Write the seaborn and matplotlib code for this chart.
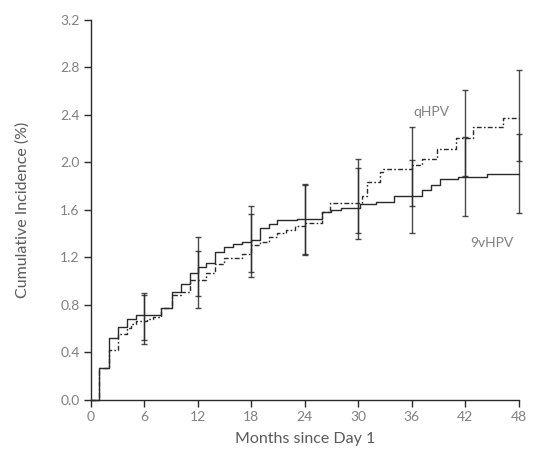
import matplotlib
matplotlib.use("Agg")
import matplotlib.pyplot as plt
import seaborn as sns
import numpy as np
import pandas as pd

# ---- data ----
months_9v = [0, 0.93, 2.0, 3.05, 4.0, 5.05, 7.85, 9.05, 10.1, 11.1, 12.0, 12.95, 13.95,
             14.95, 15.95, 16.95, 18.0, 18.95, 19.95, 20.9, 23.15, 25.9, 26.9, 28.0,
             30.2, 32.0, 34.05, 37.1, 38.15, 39.15, 41.2, 44.4, 48]
inc_9v = [0, 0.265, 0.52, 0.61, 0.675, 0.71, 0.776, 0.91, 0.97, 1.063, 1.12, 1.152, 1.245,
          1.285, 1.31, 1.33, 1.345, 1.45, 1.484, 1.51, 1.526, 1.58, 1.596, 1.615,
          1.646, 1.662, 1.714, 1.764, 1.806, 1.863, 1.876, 1.905, 1.905]

months_q = [0, 0.93, 2.0, 3.05, 4.0, 4.5, 5.05, 6.3, 7.0, 7.85, 9.05, 10.1, 11.1, 12.95,
            13.95, 14.95, 16.95, 18.0, 18.95, 19.95, 20.9, 21.9, 22.9, 24.0, 25.9, 26.8,
            30.4, 31.0, 32.4, 32.8, 36.0, 37.1, 38.8, 41.0, 42.9, 46.2, 48]
inc_q = [0, 0.265, 0.42, 0.55, 0.60, 0.635, 0.665, 0.68, 0.70, 0.776, 0.885, 0.91, 1.006, 1.063,
         1.14, 1.19, 1.23, 1.30, 1.33, 1.37, 1.40, 1.43, 1.46, 1.49, 1.58, 1.657,
         1.72, 1.834, 1.92, 1.945, 1.975, 2.03, 2.11, 2.205, 2.297, 2.376, 2.376]

ci_months = [6, 12, 18, 24, 30, 36, 42, 48]
ci_lo_9v = [0.50, 0.87, 1.076, 1.225, 1.35, 1.40, 1.55, 1.576]
ci_hi_9v = [0.90, 1.37, 1.63, 1.82, 1.95, 2.02, 2.21, 2.24]
ci_lo_q = [0.47, 0.77, 1.03, 1.22, 1.405, 1.63, 1.885, 2.01]
ci_hi_q = [0.88, 1.25, 1.56, 1.81, 2.03, 2.30, 2.61, 2.775]

x_ticks = [0, 6, 12, 18, 24, 30, 36, 42, 48]
y_ticks = [0.0, 0.4, 0.8, 1.2, 1.6, 2.0, 2.4, 2.8, 3.2]
y_tick_labels = ["0.0", "0.4", "0.8", "1.2", "1.6", "2.0", "2.4", "2.8", "3.2"]

# ---- style ----
sns.set_theme(style="white")
plt.rcParams['font.family'] = ['Lato', 'DejaVu Sans']

LINE = "#2a2a2a"
TEXT = "#808080"

fig = plt.figure(figsize=(5.41, 4.63), dpi=100)
ax = fig.add_axes([0.168, 0.137, 0.791, 0.820])

df9 = pd.DataFrame({"month": months_9v, "inc": inc_9v})
dfq = pd.DataFrame({"month": months_q, "inc": inc_q})

sns.lineplot(data=df9, x="month", y="inc", drawstyle="steps-post", color=LINE,
             linewidth=1.0, estimator=None, ax=ax)
sns.lineplot(data=dfq, x="month", y="inc", drawstyle="steps-post", color=LINE,
             linewidth=1.0, estimator=None, ax=ax)
ax.lines[-1].set_dashes((3.5, 1.6, 1.2, 1.6))
for ln in ax.lines:
    ln.set_clip_on(False)

for lo, hi in ((ci_lo_9v, ci_hi_9v), (ci_lo_q, ci_hi_q)):
    lo = np.array(lo); hi = np.array(hi)
    mid = (lo + hi) / 2
    cont = ax.errorbar(ci_months, mid, yerr=(hi - lo) / 2, fmt="none", ecolor=LINE,
                       elinewidth=1.0, capsize=2.2, capthick=1.0, alpha=0.85)
    for child in cont.get_children():
        child.set_clip_on(False)

ax.set_xlim(0, 48)
ax.set_ylim(0, 3.2)
ax.set_xticks(x_ticks)
ax.set_yticks(y_ticks)
ax.set_yticklabels(y_tick_labels)
ax.tick_params(axis="both", direction="out", length=5, width=1.0, color=LINE,
               labelsize=10, labelcolor=TEXT, pad=3, left=True, bottom=True)
for s in ["top", "right"]:
    ax.spines[s].set_visible(False)
for s in ["left", "bottom"]:
    ax.spines[s].set_color(LINE)
    ax.spines[s].set_linewidth(1.0)

ax.set_xlabel("Months since Day 1", fontsize=11.5, color="#5a5a5a", labelpad=7)
ax.set_ylabel("Cumulative Incidence (%)", fontsize=11.5, color="#5a5a5a", labelpad=22)

ax.text(38.2, 2.42, "qHPV", fontsize=10, color=TEXT, ha="center", va="center")
ax.text(45.0, 1.32, "9vHPV", fontsize=10, color=TEXT, ha="center", va="center")

fig.savefig("out.png", dpi=100)
